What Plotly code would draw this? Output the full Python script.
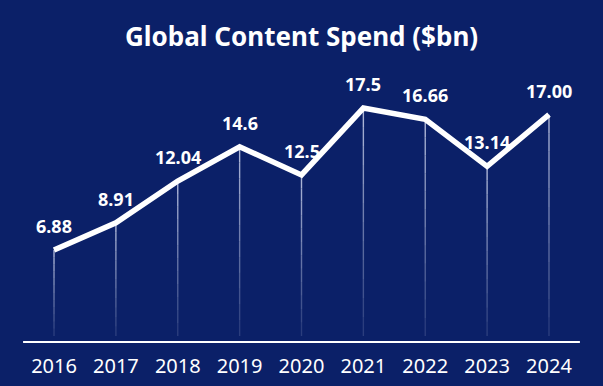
import plotly.graph_objects as go

years = ["2016", "2017", "2018", "2019", "2020", "2021", "2022", "2023", "2024"]
spend = [6.88, 8.91, 12.04, 14.6, 12.5, 17.5, 16.66, 13.14, 17.00]
value_labels = ["6.88", "8.91", "12.04", "14.6", "12.5", "17.5", "16.66", "13.14", "17.00"]
title_text = "Global Content Spend ($bn)"

BG = "#0b2068"
FONT = "Noto Sans"
xs = list(range(len(years)))

fig = go.Figure()

# fading drop lines from each point to the baseline
shapes = []
n_seg = 12
bottom = 0.45
for x, v in zip(xs, spend):
    for k in range(n_seg):
        y_top = v - (v - bottom) * k / n_seg
        y_bot = v - (v - bottom) * (k + 1) / n_seg
        op = 0.75 - 0.6 * k / (n_seg - 1)
        shapes.append(dict(type="line", xref="x", yref="y", x0=x, x1=x, y0=y_top, y1=y_bot,
                           line=dict(color=f"rgba(225,230,250,{op:.3f})", width=1.4), layer="below"))

# baseline
shapes.append(dict(type="line", xref="x", yref="y", x0=-0.5, x1=len(years) - 0.5, y0=0, y1=0,
                   line=dict(color="#ffffff", width=2)))

fig.add_trace(go.Scatter(x=xs, y=spend, mode="lines",
                         line=dict(color="#ffffff", width=5.5), hoverinfo="skip"))

# year labels
fig.add_trace(go.Scatter(x=xs, y=[-1.95] * len(xs), mode="text", text=years,
                         textfont=dict(family=FONT, size=20, color="#ffffff"), hoverinfo="skip"))

annotations = []
for x, v, t in zip(xs, spend, value_labels):
    annotations.append(dict(x=x, y=v, xref="x", yref="y", text=t, showarrow=False, yshift=24,
                            font=dict(family=FONT, size=18, color="#ffffff", weight="bold")))
annotations.append(dict(x=0.5, y=1 - 36 / 386, xref="paper", yref="paper", text=title_text,
                        showarrow=False, xanchor="center", yanchor="middle",
                        font=dict(family=FONT, size=26, color="#ffffff", weight="bold")))

fig.update_layout(
    width=603, height=386,
    margin=dict(l=0, r=0, t=0, b=0),
    paper_bgcolor=BG, plot_bgcolor=BG,
    showlegend=False,
    xaxis=dict(range=[-0.873, 8.873], visible=False, fixedrange=True),
    yaxis=dict(range=[-3.29, 25.58], visible=False, fixedrange=True),
    shapes=shapes,
    annotations=annotations,
)

fig.write_html("out.html", config={"displayModeBar": False},
               post_script="document.body.style.margin='0';")
